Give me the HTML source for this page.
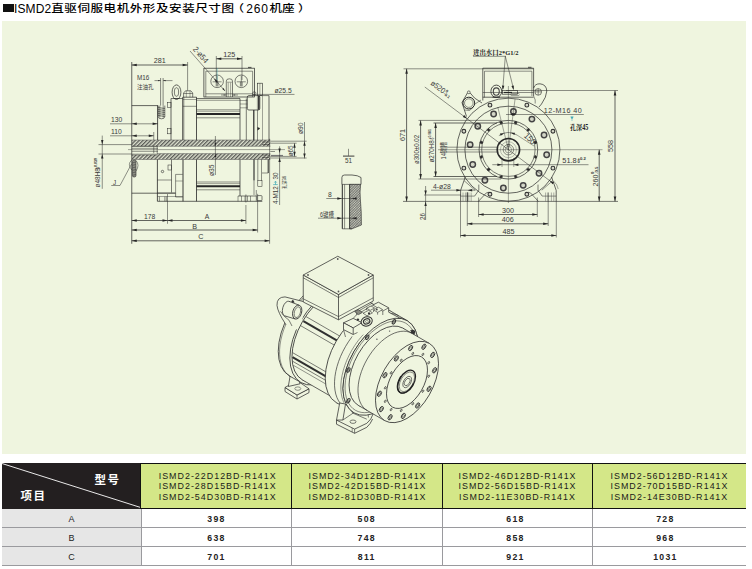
<!DOCTYPE html>
<html lang="zh"><head><meta charset="utf-8"><title>ISMD2</title>
<style>
html,body{margin:0;padding:0;background:#fff;}
body{width:752px;height:569px;position:relative;overflow:hidden;font-family:"Liberation Sans","Noto Sans CJK SC",sans-serif;color:#111;}
#title{position:absolute;left:0;top:0;width:320px;height:16px;line-height:16px;font-size:12px;white-space:nowrap;color:#000;font-weight:500;margin:0;}
#title span{position:absolute;top:1.0px;}
#title span.cj{font-size:12.6px;transform:scaleY(0.8);transform-origin:0 0;top:1.6px;}
#title .sq{left:3px;top:3.8px;width:10.5px;height:8.7px;background:#111;}
#panel{position:absolute;left:2px;top:21px;width:744px;height:433px;background:#eff5df;}
#draw{position:absolute;left:0;top:0;width:752px;height:569px;}
#tbl{position:absolute;left:2px;top:463px;width:744px;height:103px;}
.hd{position:absolute;top:0;height:45.5px;box-sizing:border-box;}
#h0{left:0;width:138.4px;background:#231f20;color:#fff;}
#h0 svg{position:absolute;left:0;top:0;}
#h0 .a{position:absolute;left:92.5px;top:7.6px;font-size:11.5px;font-weight:bold;letter-spacing:1.6px;}
#h0 .b{position:absolute;left:18.5px;top:23.5px;font-size:11.5px;font-weight:bold;letter-spacing:1.6px;}
.hg{background:#d4e788;border-top:1px solid #111;border-bottom:1px solid #111;border-left:1px solid #111;font-size:8.9px;line-height:10.4px;letter-spacing:1.02px;color:#1a1a1a;text-align:center;padding-top:7.0px;}
.row{position:absolute;left:0;width:744px;height:19px;border-bottom:1px solid #9a9a9e;box-sizing:border-box;}
.c{position:absolute;top:0;height:18px;line-height:18px;text-align:center;font-size:8.5px;box-sizing:border-box;}
.c0{left:0;width:139px;background:#e6e6e6;color:#222;font-size:9px;padding-top:1px;}
.cv{font-weight:bold;border-left:1px solid #9a9a9e;color:#222;letter-spacing:1.3px;font-size:8.7px;padding-top:1px;}
</style></head>
<body>
<h1 id="title"><span class="sq"></span><span style="left:14px;letter-spacing:0.1px">ISMD2</span><span class="cj" style="left:51.2px;letter-spacing:0.5px">直驱伺服电机外形及安装尺寸图</span><span class="cj" style="left:231.5px">（</span><span style="left:246.3px;letter-spacing:0.8px">260</span><span class="cj" style="left:269.4px;letter-spacing:0px">机座</span><span class="cj" style="left:298px">）</span></h1>
<div id="panel"></div>
<svg id="draw" width="752" height="569" viewBox="0 0 752 569" font-family="'Liberation Sans','Noto Sans CJK SC',sans-serif"><defs><pattern id="hat" width="2.7" height="2.7" patternUnits="userSpaceOnUse" patternTransform="rotate(-45)"><rect width="2.7" height="2.7" fill="#dde1cf"/><line x1="0" y1="0.7" x2="2.7" y2="0.7" stroke="#3a3a3a" stroke-width="1.05"/></pattern><pattern id="hat2" width="1.8" height="1.8" patternUnits="userSpaceOnUse" patternTransform="rotate(-45)"><rect width="1.8" height="1.8" fill="#d6d9c8"/><line x1="0" y1="0.5" x2="1.8" y2="0.5" stroke="#4a4a4a" stroke-width="0.6"/><line x1="0.5" y1="0" x2="0.5" y2="1.8" stroke="#666" stroke-width="0.4"/></pattern></defs>
<rect x="131.75" y="140" width="138.5" height="6.3" fill="url(#hat)" stroke="none"/>
<rect x="131.75" y="153.6" width="138.5" height="5.9" fill="url(#hat)" stroke="none"/>
<line x1="131.75" y1="140.00" x2="270.30" y2="140.00" stroke="#555" stroke-width="0.5"/>
<line x1="158.00" y1="146.30" x2="270.30" y2="146.30" stroke="#555" stroke-width="0.5"/>
<line x1="131.75" y1="153.60" x2="270.30" y2="153.60" stroke="#555" stroke-width="0.5"/>
<line x1="131.75" y1="159.50" x2="270.30" y2="159.50" stroke="#555" stroke-width="0.5"/>
<line x1="131.75" y1="146.30" x2="158.00" y2="146.30" stroke="#262626" stroke-width="0.7"/>
<line x1="128.00" y1="149.60" x2="285.00" y2="149.60" stroke="#262626" stroke-width="0.4"/>
<line x1="131.75" y1="148.30" x2="158.00" y2="148.30" stroke="#262626" stroke-width="0.5"/>
<line x1="131.75" y1="151.30" x2="158.00" y2="151.30" stroke="#262626" stroke-width="0.5"/>
<line x1="153.75" y1="146.30" x2="153.75" y2="154.60" stroke="#262626" stroke-width="0.5"/>
<line x1="157.20" y1="146.30" x2="157.20" y2="154.60" stroke="#262626" stroke-width="0.5"/>
<rect x="131.75" y="153.4" width="25.4" height="1.4" fill="#eff5df"/>
<line x1="131.75" y1="154.80" x2="157.20" y2="154.80" stroke="#262626" stroke-width="0.6"/>
<line x1="131.75" y1="62.00" x2="131.75" y2="243.80" stroke="#262626" stroke-width="0.7"/>
<line x1="131.75" y1="105.60" x2="158.00" y2="105.60" stroke="#262626" stroke-width="0.7"/>
<line x1="157.60" y1="105.60" x2="157.60" y2="140.00" stroke="#262626" stroke-width="0.8"/>
<line x1="160.60" y1="78.00" x2="160.60" y2="105.60" stroke="#262626" stroke-width="0.55"/>
<line x1="163.10" y1="78.00" x2="163.10" y2="105.60" stroke="#262626" stroke-width="0.55"/>
<path d="M158.2 105.6 V116.5 Q158.2 118.8 161.5 118.8 Q164.8 118.8 164.8 116.5 V105.6" fill="none" stroke="#262626" stroke-width="0.6"/>
<line x1="158.20" y1="107.50" x2="164.80" y2="108.50" stroke="#262626" stroke-width="0.6"/>
<line x1="158.20" y1="109.50" x2="164.80" y2="110.50" stroke="#262626" stroke-width="0.6"/>
<line x1="158.20" y1="111.50" x2="164.80" y2="112.50" stroke="#262626" stroke-width="0.6"/>
<line x1="158.20" y1="113.50" x2="164.80" y2="114.50" stroke="#262626" stroke-width="0.6"/>
<line x1="158.20" y1="115.50" x2="164.80" y2="116.50" stroke="#262626" stroke-width="0.6"/>
<line x1="159.80" y1="105.60" x2="159.80" y2="117.50" stroke="#262626" stroke-width="0.5"/>
<line x1="163.20" y1="105.60" x2="163.20" y2="117.50" stroke="#262626" stroke-width="0.5"/>
<line x1="154.50" y1="80.60" x2="160.60" y2="80.60" stroke="#262626" stroke-width="0.5"/>
<line x1="163.10" y1="80.60" x2="172.50" y2="80.60" stroke="#262626" stroke-width="0.5"/>
<path d="M160.60 80.60 L158.10 81.20 L158.10 80.00 Z" fill="#262626"/>
<path d="M163.10 80.60 L165.60 80.00 L165.60 81.20 Z" fill="#262626"/>
<text transform="translate(137.00 79.60) scale(0.9 1)" font-size="7" text-anchor="start" fill="#3a3a3a" font-weight="normal">M16</text>
<text transform="translate(137.00 88.60) scale(0.9 1)" font-size="6.2" text-anchor="start" fill="#3a3a3a" font-weight="normal">注油孔</text>
<line x1="187.60" y1="62.00" x2="187.60" y2="90.60" stroke="#262626" stroke-width="0.5"/>
<line x1="131.75" y1="65.00" x2="187.60" y2="65.00" stroke="#262626" stroke-width="0.7"/>
<path d="M131.75 65.00 L136.75 63.70 L136.75 66.30 Z" fill="#262626"/>
<path d="M187.60 65.00 L182.60 66.30 L182.60 63.70 Z" fill="#262626"/>
<text transform="translate(159.68 63.40) scale(0.9 1)" font-size="8" text-anchor="middle" fill="#3a3a3a" font-weight="normal">281</text>
<line x1="110.00" y1="123.80" x2="158.00" y2="123.80" stroke="#262626" stroke-width="0.5"/>
<path d="M131.75 123.80 L136.75 122.50 L136.75 125.10 Z" fill="#262626"/>
<path d="M157.60 123.80 L152.60 125.10 L152.60 122.50 Z" fill="#262626"/>
<text transform="translate(111.00 122.40) scale(0.9 1)" font-size="7.5" text-anchor="start" fill="#3a3a3a" font-weight="normal">130</text>
<line x1="110.00" y1="135.80" x2="153.75" y2="135.80" stroke="#262626" stroke-width="0.5"/>
<path d="M131.75 135.80 L136.75 134.50 L136.75 137.10 Z" fill="#262626"/>
<path d="M153.75 135.80 L148.75 137.10 L148.75 134.50 Z" fill="#262626"/>
<text transform="translate(111.00 134.40) scale(0.9 1)" font-size="7.5" text-anchor="start" fill="#3a3a3a" font-weight="normal">110</text>
<line x1="153.75" y1="132.00" x2="153.75" y2="140.00" stroke="#262626" stroke-width="0.5"/>
<line x1="98.50" y1="144.60" x2="131.75" y2="144.60" stroke="#262626" stroke-width="0.5"/>
<line x1="98.50" y1="154.00" x2="131.75" y2="154.00" stroke="#262626" stroke-width="0.5"/>
<line x1="102.25" y1="135.60" x2="102.25" y2="188.80" stroke="#262626" stroke-width="0.5"/>
<path d="M102.25 144.60 L101.05 140.00 L103.45 140.00 Z" fill="#262626"/>
<path d="M102.25 154.00 L103.45 158.60 L101.05 158.60 Z" fill="#262626"/>
<text transform="translate(100.00 187.50) rotate(-90) scale(0.9 1)" font-size="7.2" text-anchor="start" fill="#3a3a3a" font-weight="normal">ø48H8</text>
<text transform="translate(100.00 169.20) rotate(-90)" font-size="3.6" fill="#333" font-weight="bold"><tspan x="0" y="-3.3">+0.039</tspan><tspan x="0" y="0.2">0</tspan></text>
<line x1="111.25" y1="185.50" x2="120.00" y2="185.50" stroke="#262626" stroke-width="0.5"/>
<line x1="120.00" y1="185.50" x2="131.50" y2="164.00" stroke="#262626" stroke-width="0.5"/>
<text transform="translate(113.00 184.80) scale(0.9 1)" font-size="7" text-anchor="start" fill="#3a3a3a" font-weight="normal">J</text>
<path d="M131.75 160 Q127 164 131.75 170" fill="none" stroke="#262626" stroke-width="0.5"/>
<path d="M136 160.5 Q140 165 136 171" fill="none" stroke="#262626" stroke-width="0.5"/>
<rect x="132.4" y="160" width="3.6" height="17" rx="1.6" fill="#8d8f84" stroke="#2a2a2a" stroke-width="0.6"/>
<line x1="132.60" y1="162.80" x2="135.80" y2="162.00" stroke="#333" stroke-width="0.5"/>
<line x1="132.60" y1="165.30" x2="135.80" y2="164.50" stroke="#333" stroke-width="0.5"/>
<line x1="132.60" y1="167.80" x2="135.80" y2="167.00" stroke="#333" stroke-width="0.5"/>
<line x1="132.60" y1="170.30" x2="135.80" y2="169.50" stroke="#333" stroke-width="0.5"/>
<line x1="132.60" y1="172.80" x2="135.80" y2="172.00" stroke="#333" stroke-width="0.5"/>
<line x1="132.60" y1="175.30" x2="135.80" y2="174.50" stroke="#333" stroke-width="0.5"/>
<line x1="131.75" y1="193.20" x2="157.40" y2="193.20" stroke="#262626" stroke-width="0.7"/>
<line x1="157.40" y1="159.50" x2="157.40" y2="201.30" stroke="#262626" stroke-width="0.8"/>
<line x1="171.50" y1="159.50" x2="171.50" y2="192.50" stroke="#262626" stroke-width="0.6"/>
<circle cx="162.50" cy="171.50" r="1.20" fill="none" stroke="#262626" stroke-width="0.6"/>
<rect x="168.00" y="165.00" width="3.50" height="5.00" rx="0" fill="none" stroke="#262626" stroke-width="0.5"/>
<line x1="157.40" y1="180.00" x2="171.50" y2="180.00" stroke="#262626" stroke-width="0.5"/>
<line x1="175.60" y1="174.40" x2="175.60" y2="193.00" stroke="#262626" stroke-width="0.5"/>
<line x1="175.60" y1="174.40" x2="182.70" y2="174.40" stroke="#262626" stroke-width="0.5"/>
<line x1="175.60" y1="181.00" x2="182.70" y2="181.00" stroke="#262626" stroke-width="0.4"/>
<line x1="157.40" y1="193.10" x2="175.60" y2="193.10" stroke="#262626" stroke-width="1.0"/>
<line x1="175.60" y1="193.10" x2="175.60" y2="197.00" stroke="#262626" stroke-width="0.6"/>
<line x1="175.60" y1="197.00" x2="182.80" y2="197.00" stroke="#262626" stroke-width="0.5"/>
<line x1="157.40" y1="201.30" x2="262.30" y2="201.30" stroke="#262626" stroke-width="0.7"/>
<line x1="159.40" y1="196.50" x2="159.40" y2="201.30" stroke="#262626" stroke-width="0.5"/>
<line x1="164.80" y1="196.50" x2="164.80" y2="201.30" stroke="#262626" stroke-width="0.5"/>
<line x1="166.30" y1="196.50" x2="166.30" y2="201.30" stroke="#262626" stroke-width="0.5"/>
<line x1="157.40" y1="196.50" x2="182.80" y2="196.50" stroke="#262626" stroke-width="0.4"/>
<rect x="167.30" y="102.30" width="3.70" height="5.20" rx="0" fill="none" stroke="#262626" stroke-width="0.5"/>
<rect x="167.30" y="128.50" width="3.70" height="5.30" rx="0" fill="none" stroke="#262626" stroke-width="0.5"/>
<line x1="171.00" y1="98.50" x2="171.00" y2="140.00" stroke="#262626" stroke-width="0.7"/>
<line x1="171.00" y1="98.50" x2="182.80" y2="98.50" stroke="#262626" stroke-width="0.6"/>
<line x1="182.80" y1="97.20" x2="182.80" y2="140.00" stroke="#262626" stroke-width="0.9"/>
<line x1="183.90" y1="97.20" x2="183.90" y2="140.00" stroke="#262626" stroke-width="0.4"/>
<line x1="182.80" y1="97.20" x2="196.50" y2="97.20" stroke="#262626" stroke-width="0.7"/>
<line x1="196.50" y1="97.20" x2="196.50" y2="140.00" stroke="#262626" stroke-width="0.8"/>
<line x1="182.80" y1="106.30" x2="196.50" y2="106.30" stroke="#262626" stroke-width="0.5"/>
<line x1="182.80" y1="99.50" x2="196.50" y2="99.50" stroke="#262626" stroke-width="0.4"/>
<line x1="183.00" y1="159.50" x2="183.00" y2="201.30" stroke="#262626" stroke-width="0.9"/>
<line x1="196.50" y1="159.50" x2="196.50" y2="201.30" stroke="#262626" stroke-width="0.8"/>
<ellipse cx="0" cy="0" rx="4.40" ry="7.30" transform="translate(176.50 92.20) rotate(0)" fill="none" stroke="#262626" stroke-width="0.7"/>
<ellipse cx="0" cy="0" rx="2.10" ry="4.30" transform="translate(176.50 92.00) rotate(0)" fill="none" stroke="#262626" stroke-width="0.6"/>
<line x1="173.50" y1="98.50" x2="179.50" y2="98.50" stroke="#262626" stroke-width="0.6"/>
<path d="M183.60 97.20 L183.60 93.00 L185.50 90.80 L190.80 90.80 L192.70 93.00 L192.70 97.20" fill="none" stroke="#262626" stroke-width="0.6" stroke-linejoin="round"/>
<line x1="183.60" y1="93.50" x2="192.70" y2="93.50" stroke="#262626" stroke-width="0.5"/>
<line x1="186.30" y1="90.80" x2="186.30" y2="97.20" stroke="#262626" stroke-width="0.4"/>
<line x1="190.00" y1="90.80" x2="190.00" y2="97.20" stroke="#262626" stroke-width="0.4"/>
<line x1="196.50" y1="98.60" x2="240.00" y2="98.60" stroke="#262626" stroke-width="0.7"/>
<line x1="240.00" y1="98.60" x2="240.00" y2="140.00" stroke="#262626" stroke-width="0.7"/>
<line x1="196.50" y1="100.40" x2="240.00" y2="100.40" stroke="#262626" stroke-width="0.4"/>
<line x1="196.50" y1="109.80" x2="240.00" y2="109.80" stroke="#262626" stroke-width="0.5"/>
<line x1="196.50" y1="114.10" x2="240.00" y2="114.10" stroke="#262626" stroke-width="2.0"/>
<line x1="196.50" y1="117.80" x2="240.00" y2="117.80" stroke="#262626" stroke-width="0.5"/>
<line x1="196.50" y1="111.30" x2="240.00" y2="111.30" stroke="#262626" stroke-width="0.4"/>
<line x1="196.50" y1="182.00" x2="240.00" y2="182.00" stroke="#262626" stroke-width="0.5"/>
<line x1="196.50" y1="186.30" x2="240.00" y2="186.30" stroke="#262626" stroke-width="2.0"/>
<line x1="196.50" y1="189.80" x2="240.00" y2="189.80" stroke="#262626" stroke-width="0.5"/>
<line x1="196.50" y1="183.60" x2="240.00" y2="183.60" stroke="#262626" stroke-width="0.4"/>
<line x1="240.00" y1="159.50" x2="240.00" y2="196.00" stroke="#262626" stroke-width="0.7"/>
<rect x="203.90" y="68.20" width="50.50" height="28.80" rx="0" fill="none" stroke="#262626" stroke-width="0.7"/>
<path d="M205.80 97.00 L205.80 71.20 L252.60 71.20 L252.60 97.00" fill="none" stroke="#262626" stroke-width="0.5" stroke-linejoin="round"/>
<line x1="205.80" y1="93.80" x2="252.60" y2="93.80" stroke="#262626" stroke-width="0.5"/>
<line x1="248.00" y1="67.40" x2="251.50" y2="67.40" stroke="#262626" stroke-width="0.8"/>
<circle cx="217.10" cy="81.30" r="6.30" fill="none" stroke="#262626" stroke-width="0.6"/>
<circle cx="241.30" cy="81.30" r="6.30" fill="none" stroke="#262626" stroke-width="0.6"/>
<line x1="212.60" y1="81.80" x2="221.60" y2="81.80" stroke="#262626" stroke-width="0.5"/>
<line x1="217.10" y1="76.00" x2="217.10" y2="86.50" stroke="#262626" stroke-width="0.5"/>
<line x1="216.20" y1="81.80" x2="216.20" y2="86.30" stroke="#262626" stroke-width="0.5"/>
<line x1="218.00" y1="81.80" x2="218.00" y2="86.30" stroke="#262626" stroke-width="0.5"/>
<line x1="236.80" y1="81.80" x2="245.80" y2="81.80" stroke="#262626" stroke-width="0.5"/>
<line x1="241.30" y1="76.00" x2="241.30" y2="86.50" stroke="#262626" stroke-width="0.5"/>
<line x1="240.40" y1="81.80" x2="240.40" y2="86.30" stroke="#262626" stroke-width="0.5"/>
<line x1="242.20" y1="81.80" x2="242.20" y2="86.30" stroke="#262626" stroke-width="0.5"/>
<line x1="217.10" y1="68.00" x2="217.10" y2="80.00" stroke="#3aa7b5" stroke-width="0.5"/>
<path d="M226.3 97 V81 Q226.3 78.8 229.4 78.8 Q232.5 78.8 232.5 81 V97" fill="none" stroke="#262626" stroke-width="0.6"/>
<line x1="228.20" y1="82.50" x2="228.20" y2="97.00" stroke="#262626" stroke-width="0.4"/>
<line x1="230.60" y1="82.50" x2="230.60" y2="97.00" stroke="#262626" stroke-width="0.4"/>
<line x1="227.00" y1="82.20" x2="232.00" y2="82.20" stroke="#262626" stroke-width="0.4"/>
<line x1="221.00" y1="95.00" x2="226.30" y2="95.00" stroke="#262626" stroke-width="0.5"/>
<path d="M226.30 95.00 L223.70 95.60 L223.70 94.40 Z" fill="#262626"/>
<line x1="232.50" y1="95.00" x2="238.00" y2="95.00" stroke="#262626" stroke-width="0.5"/>
<path d="M232.50 95.00 L235.10 94.40 L235.10 95.60 Z" fill="#262626"/>
<line x1="216.30" y1="56.00" x2="216.30" y2="80.00" stroke="#262626" stroke-width="0.5"/>
<line x1="242.00" y1="56.00" x2="242.00" y2="80.00" stroke="#262626" stroke-width="0.5"/>
<line x1="216.30" y1="58.80" x2="242.00" y2="58.80" stroke="#262626" stroke-width="0.7"/>
<path d="M216.30 58.80 L221.30 57.50 L221.30 60.10 Z" fill="#262626"/>
<path d="M242.00 58.80 L237.00 60.10 L237.00 57.50 Z" fill="#262626"/>
<text transform="translate(229.15 57.20) scale(0.9 1)" font-size="8" text-anchor="middle" fill="#3a3a3a" font-weight="normal">125</text>
<line x1="190.00" y1="51.00" x2="225.00" y2="91.00" stroke="#262626" stroke-width="0.5"/>
<path d="M214.00 78.40 L217.93 81.07 L216.13 82.65 Z" fill="#262626"/>
<path d="M225.00 91.00 L222.29 89.12 L223.49 88.07 Z" fill="#262626"/>
<text transform="translate(192.50 49.50) rotate(48.8) scale(0.9 1)" font-size="8" text-anchor="start" fill="#3a3a3a" font-weight="normal">2-ø54</text>
<line x1="246.30" y1="98.60" x2="246.30" y2="140.00" stroke="#262626" stroke-width="0.6"/>
<line x1="240.00" y1="100.50" x2="247.30" y2="100.50" stroke="#262626" stroke-width="0.4"/>
<rect x="247.30" y="95.60" width="12.50" height="14.40" rx="1.6" fill="none" stroke="#262626" stroke-width="0.7"/>
<line x1="258.80" y1="95.90" x2="258.80" y2="109.70" stroke="#262626" stroke-width="1.4"/>
<line x1="257.40" y1="95.60" x2="257.40" y2="110.00" stroke="#262626" stroke-width="0.4"/>
<line x1="240.00" y1="104.00" x2="247.30" y2="104.00" stroke="#262626" stroke-width="0.4"/>
<line x1="240.00" y1="107.80" x2="247.30" y2="107.80" stroke="#262626" stroke-width="0.4"/>
<rect x="257.30" y="83.20" width="5.20" height="12.40" rx="0" fill="none" stroke="#262626" stroke-width="0.6"/>
<line x1="259.90" y1="83.20" x2="259.90" y2="95.60" stroke="#262626" stroke-width="0.4"/>
<circle cx="254.30" cy="93.30" r="1.60" fill="none" stroke="#262626" stroke-width="0.5"/>
<line x1="259.80" y1="95.60" x2="269.00" y2="95.60" stroke="#262626" stroke-width="0.6"/>
<line x1="269.00" y1="95.60" x2="269.00" y2="140.00" stroke="#262626" stroke-width="0.7"/>
<line x1="262.50" y1="95.60" x2="262.50" y2="140.00" stroke="#262626" stroke-width="0.4"/>
<line x1="253.80" y1="110.00" x2="253.80" y2="140.00" stroke="#262626" stroke-width="1.2"/>
<line x1="257.50" y1="110.00" x2="257.50" y2="140.00" stroke="#262626" stroke-width="0.5"/>
<path d="M257.6 127.2 l2.4 1.2 l-2.4 1.8 z" fill="#262626" stroke="#262626" stroke-width="0.3"/>
<line x1="252.00" y1="94.40" x2="294.50" y2="94.40" stroke="#262626" stroke-width="0.5"/>
<text transform="translate(274.50 93.40) scale(0.9 1)" font-size="7.5" text-anchor="start" fill="#3a3a3a" font-weight="normal">ø25.5</text>
<line x1="254.00" y1="159.50" x2="254.00" y2="180.60" stroke="#262626" stroke-width="1.1"/>
<line x1="254.00" y1="180.60" x2="254.00" y2="195.00" stroke="#262626" stroke-width="0.5"/>
<line x1="257.80" y1="159.50" x2="257.80" y2="180.60" stroke="#262626" stroke-width="0.5"/>
<line x1="261.50" y1="159.50" x2="261.50" y2="180.60" stroke="#262626" stroke-width="0.5"/>
<rect x="257.80" y="180.60" width="4.20" height="5.70" rx="0" fill="none" stroke="#262626" stroke-width="0.5"/>
<line x1="268.20" y1="159.50" x2="268.20" y2="173.00" stroke="#262626" stroke-width="1.0"/>
<line x1="262.00" y1="173.00" x2="268.20" y2="173.00" stroke="#262626" stroke-width="0.5"/>
<line x1="240.00" y1="196.00" x2="256.30" y2="196.00" stroke="#262626" stroke-width="0.6"/>
<line x1="238.00" y1="196.00" x2="238.00" y2="201.30" stroke="#262626" stroke-width="0.45"/>
<line x1="241.50" y1="196.00" x2="241.50" y2="201.30" stroke="#262626" stroke-width="0.45"/>
<line x1="245.00" y1="196.00" x2="245.00" y2="201.30" stroke="#262626" stroke-width="0.45"/>
<line x1="247.50" y1="196.00" x2="247.50" y2="201.30" stroke="#262626" stroke-width="0.45"/>
<line x1="250.50" y1="196.00" x2="250.50" y2="201.30" stroke="#262626" stroke-width="0.45"/>
<line x1="238.00" y1="196.00" x2="240.00" y2="196.00" stroke="#262626" stroke-width="0.6"/>
<rect x="257.00" y="195.60" width="5.00" height="5.00" rx="0.8" fill="none" stroke="#262626" stroke-width="0.6"/>
<line x1="256.30" y1="190.00" x2="256.30" y2="201.30" stroke="#262626" stroke-width="0.5"/>
<line x1="262.00" y1="142.00" x2="269.00" y2="142.00" stroke="#262626" stroke-width="0.5"/>
<line x1="262.00" y1="144.50" x2="269.00" y2="144.50" stroke="#262626" stroke-width="0.5"/>
<line x1="262.00" y1="155.00" x2="269.00" y2="155.00" stroke="#262626" stroke-width="0.5"/>
<line x1="262.00" y1="157.50" x2="269.00" y2="157.50" stroke="#262626" stroke-width="0.5"/>
<line x1="269.60" y1="138.80" x2="269.60" y2="243.80" stroke="#262626" stroke-width="0.5"/>
<line x1="167.50" y1="194.00" x2="167.50" y2="223.80" stroke="#262626" stroke-width="0.5"/>
<line x1="245.90" y1="194.40" x2="245.90" y2="202.50" stroke="#262626" stroke-width="0.5"/>
<line x1="245.90" y1="205.00" x2="245.90" y2="223.80" stroke="#262626" stroke-width="0.5"/>
<line x1="257.60" y1="193.80" x2="257.60" y2="232.50" stroke="#262626" stroke-width="0.5"/>
<line x1="131.75" y1="220.50" x2="167.50" y2="220.50" stroke="#262626" stroke-width="0.7"/>
<path d="M131.75 220.50 L136.75 219.20 L136.75 221.80 Z" fill="#262626"/>
<path d="M167.50 220.50 L162.50 221.80 L162.50 219.20 Z" fill="#262626"/>
<text transform="translate(149.60 218.80) scale(0.9 1)" font-size="7.5" text-anchor="middle" fill="#3a3a3a" font-weight="normal">178</text>
<line x1="167.50" y1="220.50" x2="245.90" y2="220.50" stroke="#262626" stroke-width="0.7"/>
<path d="M167.50 220.50 L172.50 219.20 L172.50 221.80 Z" fill="#262626"/>
<path d="M245.90 220.50 L240.90 221.80 L240.90 219.20 Z" fill="#262626"/>
<text transform="translate(207.00 218.80) scale(0.9 1)" font-size="7.5" text-anchor="middle" fill="#3a3a3a" font-weight="normal">A</text>
<line x1="131.75" y1="230.00" x2="257.60" y2="230.00" stroke="#262626" stroke-width="0.7"/>
<path d="M131.75 230.00 L136.75 228.70 L136.75 231.30 Z" fill="#262626"/>
<path d="M257.60 230.00 L252.60 231.30 L252.60 228.70 Z" fill="#262626"/>
<text transform="translate(194.60 228.60) scale(0.9 1)" font-size="8.0" text-anchor="middle" fill="#3a3a3a" font-weight="normal">B</text>
<line x1="131.75" y1="240.80" x2="269.60" y2="240.80" stroke="#262626" stroke-width="0.7"/>
<path d="M131.75 240.80 L136.75 239.50 L136.75 242.10 Z" fill="#262626"/>
<path d="M269.60 240.80 L264.60 242.10 L264.60 239.50 Z" fill="#262626"/>
<text transform="translate(200.80 239.40) scale(0.9 1)" font-size="8.0" text-anchor="middle" fill="#3a3a3a" font-weight="normal">C</text>
<line x1="215.40" y1="136.00" x2="215.40" y2="175.00" stroke="#262626" stroke-width="0.5"/>
<path d="M215.40 146.30 L214.50 142.70 L216.30 142.70 Z" fill="#262626"/>
<path d="M215.40 153.40 L216.30 157.00 L214.50 157.00 Z" fill="#262626"/>
<text transform="translate(213.80 176.00) rotate(-90) scale(0.9 1)" font-size="7.5" text-anchor="start" fill="#3a3a3a" font-weight="normal">ø35</text>
<line x1="270.30" y1="141.20" x2="306.60" y2="141.20" stroke="#262626" stroke-width="0.5"/>
<line x1="270.30" y1="158.00" x2="306.60" y2="158.00" stroke="#262626" stroke-width="0.5"/>
<line x1="304.50" y1="122.00" x2="304.50" y2="158.50" stroke="#262626" stroke-width="0.5"/>
<path d="M304.50 141.20 L305.70 145.80 L303.30 145.80 Z" fill="#262626"/>
<path d="M304.50 158.00 L303.30 153.40 L305.70 153.40 Z" fill="#262626"/>
<text transform="translate(302.60 134.00) rotate(-90) scale(0.9 1)" font-size="7.5" text-anchor="start" fill="#3a3a3a" font-weight="normal">ø90</text>
<line x1="270.30" y1="143.20" x2="296.60" y2="143.20" stroke="#262626" stroke-width="0.5"/>
<line x1="270.30" y1="156.40" x2="296.60" y2="156.40" stroke="#262626" stroke-width="0.5"/>
<line x1="294.50" y1="143.20" x2="294.50" y2="156.40" stroke="#262626" stroke-width="0.5"/>
<path d="M294.50 143.20 L295.70 147.80 L293.30 147.80 Z" fill="#262626"/>
<path d="M294.50 156.40 L293.30 151.80 L295.70 151.80 Z" fill="#262626"/>
<text transform="translate(293.00 156.30) rotate(-90) scale(0.9 1)" font-size="7" text-anchor="start" fill="#3a3a3a" font-weight="normal">ø65</text>
<line x1="270.30" y1="151.50" x2="275.00" y2="151.50" stroke="#262626" stroke-width="0.5"/>
<line x1="271.00" y1="155.50" x2="283.00" y2="155.50" stroke="#777" stroke-width="1.2"/>
<line x1="279.60" y1="146.30" x2="279.60" y2="205.00" stroke="#262626" stroke-width="0.5"/>
<path d="M279.60 153.00 L278.40 148.40 L280.80 148.40 Z" fill="#262626"/>
<path d="M279.60 157.50 L280.80 162.10 L278.40 162.10 Z" fill="#262626"/>
<text transform="translate(277.90 204.00) rotate(-90) scale(0.9 1)" font-size="7" text-anchor="start" fill="#3a3a3a" font-weight="normal">4-M12</text>
<path d="M273.2 184.6 H277.8 M275.5 184.6 V181.4 M274.3 182.6 L275.5 181.2 L276.7 182.6" fill="none" stroke="#3aa7b5" stroke-width="0.7"/>
<text transform="translate(277.90 179.60) rotate(-90) scale(0.9 1)" font-size="7" text-anchor="start" fill="#3a3a3a" font-weight="normal">30</text>
<text transform="translate(286.00 189.00) rotate(-90) scale(0.85 1)" font-size="5" text-anchor="start" fill="#3a3a3a" font-weight="normal">孔深36</text>
<line x1="348.50" y1="148.80" x2="348.50" y2="155.80" stroke="#262626" stroke-width="0.5"/>
<line x1="343.00" y1="156.10" x2="354.40" y2="156.10" stroke="#262626" stroke-width="0.9"/>
<text transform="translate(348.60 162.90) scale(0.9 1)" font-size="7" text-anchor="middle" fill="#3a3a3a" font-weight="normal">51</text>
<path d="M341.9 184.4 V177.5 Q341.9 175 344.5 175 H352 Q358 175.3 361 177.5 V184.4" fill="none" stroke="#262626" stroke-width="0.7"/>
<line x1="341.90" y1="184.40" x2="361.00" y2="184.40" stroke="#262626" stroke-width="0.6"/>
<line x1="342.30" y1="184.40" x2="342.30" y2="228.80" stroke="#262626" stroke-width="1.0"/>
<line x1="344.60" y1="184.40" x2="344.60" y2="228.80" stroke="#262626" stroke-width="0.5"/>
<path d="M349.6 184.4 H360.6 Q359.6 192 360.4 200 Q361.6 212 361.4 225 L352 228.8 H349.6 Z" fill="url(#hat2)" stroke="#262626" stroke-width="0.6"/>
<line x1="342.30" y1="228.80" x2="352.00" y2="228.80" stroke="#262626" stroke-width="0.6"/>
<line x1="349.60" y1="184.40" x2="349.60" y2="228.80" stroke="#262626" stroke-width="0.6"/>
<line x1="326.30" y1="198.50" x2="355.00" y2="198.50" stroke="#262626" stroke-width="0.5"/>
<path d="M341.90 198.50 L337.30 199.70 L337.30 197.30 Z" fill="#262626"/>
<path d="M352.00 198.50 L356.60 197.30 L356.60 199.70 Z" fill="#262626"/>
<text transform="translate(329.80 197.00) scale(0.9 1)" font-size="7.5" text-anchor="middle" fill="#3a3a3a" font-weight="normal">8</text>
<line x1="318.00" y1="218.20" x2="355.00" y2="218.20" stroke="#262626" stroke-width="0.5"/>
<path d="M341.90 218.20 L337.30 219.40 L337.30 217.00 Z" fill="#262626"/>
<path d="M352.00 218.20 L356.60 217.00 L356.60 219.40 Z" fill="#262626"/>
<text transform="translate(320.00 217.00) scale(0.8 1)" font-size="6.8" text-anchor="start" fill="#3a3a3a" font-weight="normal">6键槽</text>
<circle cx="508.40" cy="149.70" r="51.50" fill="none" stroke="#262626" stroke-width="0.7"/>
<circle cx="508.40" cy="149.70" r="43.50" fill="none" stroke="#262626" stroke-width="0.7"/>
<circle cx="508.40" cy="149.70" r="29.30" fill="none" stroke="#262626" stroke-width="0.7"/>
<circle cx="508.40" cy="149.70" r="26.70" fill="none" stroke="#262626" stroke-width="0.6"/>
<circle cx="508.40" cy="149.70" r="11.20" fill="none" stroke="#2a2a2a" stroke-width="1.6"/>
<circle cx="508.40" cy="149.70" r="8.00" fill="none" stroke="#666" stroke-width="0.4"/>
<circle cx="508.40" cy="149.70" r="5.20" fill="none" stroke="#262626" stroke-width="0.5"/>
<circle cx="508.40" cy="149.70" r="3.20" fill="none" stroke="#555" stroke-width="0.5"/>
<path d="M507.2 146.5 V144.29999999999998 H509.59999999999997 V146.5" fill="none" stroke="#262626" stroke-width="0.4"/>
<line x1="508.40" y1="86.00" x2="508.40" y2="203.00" stroke="#262626" stroke-width="0.4"/>
<line x1="438.00" y1="149.70" x2="602.50" y2="149.70" stroke="#262626" stroke-width="0.4"/>
<circle cx="513.44" cy="111.43" r="2.70" fill="#dcdfce" stroke="#444" stroke-width="1.5"/>
<circle cx="513.44" cy="111.43" r="0.90" fill="#eff5df" stroke="#999" stroke-width="0.3"/>
<circle cx="531.90" cy="119.08" r="2.70" fill="#dcdfce" stroke="#444" stroke-width="1.5"/>
<circle cx="531.90" cy="119.08" r="0.90" fill="#eff5df" stroke="#999" stroke-width="0.3"/>
<circle cx="544.06" cy="134.93" r="2.70" fill="#dcdfce" stroke="#444" stroke-width="1.5"/>
<circle cx="544.06" cy="134.93" r="0.90" fill="#eff5df" stroke="#999" stroke-width="0.3"/>
<circle cx="546.67" cy="154.74" r="2.70" fill="#dcdfce" stroke="#444" stroke-width="1.5"/>
<circle cx="546.67" cy="154.74" r="0.90" fill="#eff5df" stroke="#999" stroke-width="0.3"/>
<circle cx="539.02" cy="173.20" r="2.70" fill="#dcdfce" stroke="#444" stroke-width="1.5"/>
<circle cx="539.02" cy="173.20" r="0.90" fill="#eff5df" stroke="#999" stroke-width="0.3"/>
<circle cx="523.17" cy="185.36" r="2.70" fill="#dcdfce" stroke="#444" stroke-width="1.5"/>
<circle cx="523.17" cy="185.36" r="0.90" fill="#eff5df" stroke="#999" stroke-width="0.3"/>
<circle cx="503.36" cy="187.97" r="2.70" fill="#dcdfce" stroke="#444" stroke-width="1.5"/>
<circle cx="503.36" cy="187.97" r="0.90" fill="#eff5df" stroke="#999" stroke-width="0.3"/>
<circle cx="484.90" cy="180.32" r="2.70" fill="#dcdfce" stroke="#444" stroke-width="1.5"/>
<circle cx="484.90" cy="180.32" r="0.90" fill="#eff5df" stroke="#999" stroke-width="0.3"/>
<circle cx="472.74" cy="164.47" r="2.70" fill="#dcdfce" stroke="#444" stroke-width="1.5"/>
<circle cx="472.74" cy="164.47" r="0.90" fill="#eff5df" stroke="#999" stroke-width="0.3"/>
<circle cx="470.13" cy="144.66" r="2.70" fill="#dcdfce" stroke="#444" stroke-width="1.5"/>
<circle cx="470.13" cy="144.66" r="0.90" fill="#eff5df" stroke="#999" stroke-width="0.3"/>
<circle cx="477.78" cy="126.20" r="2.70" fill="#dcdfce" stroke="#444" stroke-width="1.5"/>
<circle cx="477.78" cy="126.20" r="0.90" fill="#eff5df" stroke="#999" stroke-width="0.3"/>
<circle cx="493.63" cy="114.04" r="2.70" fill="#dcdfce" stroke="#444" stroke-width="1.5"/>
<circle cx="493.63" cy="114.04" r="0.90" fill="#eff5df" stroke="#999" stroke-width="0.3"/>
<circle cx="526.85" cy="105.17" r="1.90" fill="#d5d8c8" stroke="#333" stroke-width="1.1"/>
<circle cx="552.93" cy="131.25" r="1.90" fill="#d5d8c8" stroke="#333" stroke-width="1.1"/>
<circle cx="552.93" cy="168.15" r="1.90" fill="#d5d8c8" stroke="#333" stroke-width="1.1"/>
<circle cx="526.85" cy="194.23" r="1.90" fill="#d5d8c8" stroke="#333" stroke-width="1.1"/>
<circle cx="489.95" cy="194.23" r="1.90" fill="#d5d8c8" stroke="#333" stroke-width="1.1"/>
<circle cx="463.87" cy="168.15" r="1.90" fill="#d5d8c8" stroke="#333" stroke-width="1.1"/>
<circle cx="463.87" cy="131.25" r="1.90" fill="#d5d8c8" stroke="#333" stroke-width="1.1"/>
<circle cx="489.95" cy="105.17" r="1.90" fill="#d5d8c8" stroke="#333" stroke-width="1.1"/>
<path d="M513.95 122.65 L517.35 122.65 M515.65 120.95 L515.65 124.35 M514.55 121.55 L516.75 123.75 M516.75 121.55 L514.45 123.85" fill="none" stroke="#2a2a2a" stroke-width="1.0"/>
<path d="M526.50 129.90 L529.90 129.90 M528.20 128.20 L528.20 131.60 M527.10 128.80 L529.30 131.00 M529.30 128.80 L527.00 131.10" fill="none" stroke="#2a2a2a" stroke-width="1.0"/>
<path d="M533.75 142.45 L537.15 142.45 M535.45 140.75 L535.45 144.15 M534.35 141.35 L536.55 143.55 M536.55 141.35 L534.25 143.65" fill="none" stroke="#2a2a2a" stroke-width="1.0"/>
<path d="M533.75 156.95 L537.15 156.95 M535.45 155.25 L535.45 158.65 M534.35 155.85 L536.55 158.05 M536.55 155.85 L534.25 158.15" fill="none" stroke="#2a2a2a" stroke-width="1.0"/>
<path d="M526.50 169.50 L529.90 169.50 M528.20 167.80 L528.20 171.20 M527.10 168.40 L529.30 170.60 M529.30 168.40 L527.00 170.70" fill="none" stroke="#2a2a2a" stroke-width="1.0"/>
<path d="M513.95 176.75 L517.35 176.75 M515.65 175.05 L515.65 178.45 M514.55 175.65 L516.75 177.85 M516.75 175.65 L514.45 177.95" fill="none" stroke="#2a2a2a" stroke-width="1.0"/>
<path d="M499.45 176.75 L502.85 176.75 M501.15 175.05 L501.15 178.45 M500.05 175.65 L502.25 177.85 M502.25 175.65 L499.95 177.95" fill="none" stroke="#2a2a2a" stroke-width="1.0"/>
<path d="M486.90 169.50 L490.30 169.50 M488.60 167.80 L488.60 171.20 M487.50 168.40 L489.70 170.60 M489.70 168.40 L487.40 170.70" fill="none" stroke="#2a2a2a" stroke-width="1.0"/>
<path d="M479.65 156.95 L483.05 156.95 M481.35 155.25 L481.35 158.65 M480.25 155.85 L482.45 158.05 M482.45 155.85 L480.15 158.15" fill="none" stroke="#2a2a2a" stroke-width="1.0"/>
<path d="M479.65 142.45 L483.05 142.45 M481.35 140.75 L481.35 144.15 M480.25 141.35 L482.45 143.55 M482.45 141.35 L480.15 143.65" fill="none" stroke="#2a2a2a" stroke-width="1.0"/>
<path d="M486.90 129.90 L490.30 129.90 M488.60 128.20 L488.60 131.60 M487.50 128.80 L489.70 131.00 M489.70 128.80 L487.40 131.10" fill="none" stroke="#2a2a2a" stroke-width="1.0"/>
<path d="M499.45 122.65 L502.85 122.65 M501.15 120.95 L501.15 124.35 M500.05 121.55 L502.25 123.75 M502.25 121.55 L499.95 123.85" fill="none" stroke="#2a2a2a" stroke-width="1.0"/>
<line x1="482.80" y1="68.20" x2="533.60" y2="68.20" stroke="#262626" stroke-width="0.7"/>
<line x1="482.80" y1="68.20" x2="482.80" y2="100.50" stroke="#262626" stroke-width="0.7"/>
<line x1="484.50" y1="71.20" x2="484.50" y2="97.50" stroke="#262626" stroke-width="0.5"/>
<line x1="533.60" y1="68.20" x2="533.60" y2="96.00" stroke="#262626" stroke-width="0.7"/>
<line x1="531.90" y1="71.20" x2="531.90" y2="96.00" stroke="#262626" stroke-width="0.5"/>
<line x1="484.50" y1="71.20" x2="531.90" y2="71.20" stroke="#262626" stroke-width="0.5"/>
<line x1="528.00" y1="67.30" x2="531.50" y2="67.30" stroke="#262626" stroke-width="0.8"/>
<line x1="482.80" y1="92.50" x2="533.60" y2="92.50" stroke="#262626" stroke-width="0.5"/>
<line x1="482.80" y1="97.20" x2="533.60" y2="97.20" stroke="#262626" stroke-width="0.7"/>
<rect x="502.40" y="90.40" width="15.20" height="3.80" rx="0" fill="none" stroke="#262626" stroke-width="0.6"/>
<line x1="504.00" y1="92.50" x2="512.00" y2="92.50" stroke="#262626" stroke-width="1.2"/>
<rect x="511.00" y="93.80" width="8.00" height="1.80" rx="0" fill="none" stroke="#262626" stroke-width="0.4"/>
<ellipse cx="0" cy="0" rx="5.40" ry="6.20" transform="translate(496.30 91.30) rotate(0)" fill="none" stroke="#262626" stroke-width="0.8"/>
<ellipse cx="0" cy="0" rx="3.00" ry="3.70" transform="translate(496.30 91.60) rotate(0)" fill="none" stroke="#444" stroke-width="1.1"/>
<line x1="492.50" y1="97.20" x2="500.00" y2="97.20" stroke="#262626" stroke-width="0.8"/>
<circle cx="468.80" cy="103.10" r="5.90" fill="none" stroke="#262626" stroke-width="1.0"/>
<circle cx="468.80" cy="103.10" r="4.30" fill="none" stroke="#262626" stroke-width="0.5"/>
<circle cx="468.80" cy="92.30" r="1.40" fill="none" stroke="#262626" stroke-width="0.6"/>
<path d="M467.40 93.00 L462.00 102.50 L466.50 116.50" fill="none" stroke="#262626" stroke-width="0.7" stroke-linejoin="round"/>
<path d="M470.20 93.00 L474.50 98.00 L482.00 103.00" fill="none" stroke="#262626" stroke-width="0.7" stroke-linejoin="round"/>
<path d="M464.50 110.00 L469.50 110.50 L473.50 107.00" fill="none" stroke="#262626" stroke-width="0.5" stroke-linejoin="round"/>
<line x1="475.00" y1="104.00" x2="481.00" y2="100.00" stroke="#262626" stroke-width="0.5"/>
<circle cx="538.20" cy="91.90" r="3.30" fill="none" stroke="#262626" stroke-width="0.6"/>
<line x1="535.00" y1="91.90" x2="541.40" y2="91.90" stroke="#262626" stroke-width="0.5"/>
<line x1="538.20" y1="88.70" x2="538.20" y2="95.10" stroke="#262626" stroke-width="0.5"/>
<path d="M533.6 88 Q535 83.6 540 83.8 Q546.5 84.5 546.8 91 Q546.5 97 541.5 104 L539 107" fill="none" stroke="#262626" stroke-width="0.7"/>
<path d="M533.6 96 Q536 100 535.2 103.5" fill="none" stroke="#262626" stroke-width="0.5"/>
<line x1="403.00" y1="201.40" x2="618.00" y2="201.40" stroke="#262626" stroke-width="0.6"/>
<path d="M460.60 201.40 L460.60 190.40 L464.00 180.60 L465.20 177.00" fill="none" stroke="#262626" stroke-width="0.7" stroke-linejoin="round"/>
<line x1="460.60" y1="196.10" x2="474.60" y2="196.10" stroke="#262626" stroke-width="0.5"/>
<path d="M474.60 196.10 L478.80 190.20 L478.80 184.60" fill="none" stroke="#262626" stroke-width="0.6" stroke-linejoin="round"/>
<line x1="464.00" y1="180.60" x2="475.00" y2="190.20" stroke="#262626" stroke-width="0.5"/>
<path d="M478.40 201.40 L486.30 192.90 L488.60 192.20" fill="none" stroke="#262626" stroke-width="0.6" stroke-linejoin="round"/>
<line x1="463.00" y1="192.50" x2="463.00" y2="201.40" stroke="#555" stroke-width="0.45"/>
<line x1="465.40" y1="192.50" x2="465.40" y2="201.40" stroke="#555" stroke-width="0.45"/>
<line x1="468.80" y1="192.50" x2="468.80" y2="201.40" stroke="#555" stroke-width="0.45"/>
<line x1="471.20" y1="192.50" x2="471.20" y2="201.40" stroke="#555" stroke-width="0.45"/>
<path d="M556.20 201.40 L556.20 190.40 L552.80 180.60 L551.60 177.00" fill="none" stroke="#262626" stroke-width="0.7" stroke-linejoin="round"/>
<line x1="556.20" y1="196.10" x2="542.20" y2="196.10" stroke="#262626" stroke-width="0.5"/>
<path d="M542.20 196.10 L538.00 190.20 L538.00 184.60" fill="none" stroke="#262626" stroke-width="0.6" stroke-linejoin="round"/>
<line x1="552.80" y1="180.60" x2="541.80" y2="190.20" stroke="#262626" stroke-width="0.5"/>
<path d="M538.40 201.40 L530.50 192.90 L528.20 192.20" fill="none" stroke="#262626" stroke-width="0.6" stroke-linejoin="round"/>
<line x1="553.80" y1="192.50" x2="553.80" y2="201.40" stroke="#555" stroke-width="0.45"/>
<line x1="551.40" y1="192.50" x2="551.40" y2="201.40" stroke="#555" stroke-width="0.45"/>
<line x1="548.00" y1="192.50" x2="548.00" y2="201.40" stroke="#555" stroke-width="0.45"/>
<line x1="545.60" y1="192.50" x2="545.60" y2="201.40" stroke="#555" stroke-width="0.45"/>
<path d="M553.5 181 Q557.5 184.5 558.2 189" fill="none" stroke="#262626" stroke-width="0.4"/>
<line x1="467.30" y1="192.30" x2="467.30" y2="201.40" stroke="#262626" stroke-width="0.8"/>
<line x1="460.50" y1="201.40" x2="460.50" y2="237.50" stroke="#262626" stroke-width="0.5"/>
<line x1="556.30" y1="201.40" x2="556.30" y2="237.50" stroke="#262626" stroke-width="0.5"/>
<line x1="467.30" y1="192.50" x2="467.30" y2="226.00" stroke="#262626" stroke-width="0.5"/>
<line x1="548.20" y1="192.50" x2="548.20" y2="226.00" stroke="#262626" stroke-width="0.5"/>
<line x1="478.60" y1="197.50" x2="478.60" y2="217.00" stroke="#262626" stroke-width="0.5"/>
<line x1="537.30" y1="197.50" x2="537.30" y2="217.00" stroke="#262626" stroke-width="0.5"/>
<line x1="478.60" y1="214.50" x2="537.30" y2="214.50" stroke="#262626" stroke-width="0.7"/>
<path d="M478.60 214.50 L483.60 213.20 L483.60 215.80 Z" fill="#262626"/>
<path d="M537.30 214.50 L532.30 215.80 L532.30 213.20 Z" fill="#262626"/>
<text transform="translate(507.95 212.90) scale(0.9 1)" font-size="8.0" text-anchor="middle" fill="#3a3a3a" font-weight="normal">300</text>
<line x1="467.30" y1="223.80" x2="548.20" y2="223.80" stroke="#262626" stroke-width="0.7"/>
<path d="M467.30 223.80 L472.30 222.50 L472.30 225.10 Z" fill="#262626"/>
<path d="M548.20 223.80 L543.20 225.10 L543.20 222.50 Z" fill="#262626"/>
<text transform="translate(507.75 222.20) scale(0.9 1)" font-size="8.0" text-anchor="middle" fill="#3a3a3a" font-weight="normal">406</text>
<line x1="460.50" y1="235.50" x2="556.30" y2="235.50" stroke="#262626" stroke-width="0.7"/>
<path d="M460.50 235.50 L465.50 234.20 L465.50 236.80 Z" fill="#262626"/>
<path d="M556.30 235.50 L551.30 236.80 L551.30 234.20 Z" fill="#262626"/>
<text transform="translate(508.40 233.90) scale(0.9 1)" font-size="8.0" text-anchor="middle" fill="#3a3a3a" font-weight="normal">485</text>
<line x1="403.50" y1="68.80" x2="533.50" y2="68.80" stroke="#262626" stroke-width="0.5"/>
<line x1="406.60" y1="68.80" x2="406.60" y2="201.40" stroke="#262626" stroke-width="0.7"/>
<path d="M406.60 68.80 L407.90 73.80 L405.30 73.80 Z" fill="#262626"/>
<path d="M406.60 201.40 L405.30 196.40 L407.90 196.40 Z" fill="#262626"/>
<text transform="translate(405.00 135.00) rotate(-90) scale(0.9 1)" font-size="8.0" text-anchor="middle" fill="#3a3a3a" font-weight="normal">671</text>
<line x1="506.00" y1="90.50" x2="618.00" y2="90.50" stroke="#262626" stroke-width="0.5"/>
<line x1="615.00" y1="90.50" x2="615.00" y2="201.40" stroke="#262626" stroke-width="0.7"/>
<path d="M615.00 90.50 L616.30 95.50 L613.70 95.50 Z" fill="#262626"/>
<path d="M615.00 201.40 L613.70 196.40 L616.30 196.40 Z" fill="#262626"/>
<text transform="translate(613.40 146.00) rotate(-90) scale(0.9 1)" font-size="8.0" text-anchor="middle" fill="#3a3a3a" font-weight="normal">558</text>
<line x1="599.20" y1="149.70" x2="599.20" y2="201.40" stroke="#262626" stroke-width="0.7"/>
<path d="M599.20 149.70 L600.50 154.70 L597.90 154.70 Z" fill="#262626"/>
<path d="M599.20 201.40 L597.90 196.40 L600.50 196.40 Z" fill="#262626"/>
<text transform="translate(597.60 186.50) rotate(-90) scale(0.92 1)" font-size="7.8" text-anchor="start" fill="#3a3a3a" font-weight="normal">260</text>
<text transform="translate(597.60 174.00) rotate(-90)" font-size="4.2" fill="#333" font-weight="bold"><tspan x="0" y="-3.3">0</tspan><tspan x="0" y="0.2">-0.5</tspan></text>
<line x1="492.30" y1="164.70" x2="588.50" y2="164.70" stroke="#262626" stroke-width="0.5"/>
<path d="M502.00 164.70 L497.40 165.90 L497.40 163.50 Z" fill="#262626"/>
<path d="M513.80 164.70 L518.40 163.50 L518.40 165.90 Z" fill="#262626"/>
<line x1="502.00" y1="158.00" x2="502.00" y2="167.00" stroke="#262626" stroke-width="0.4"/>
<line x1="513.80" y1="158.00" x2="513.80" y2="167.00" stroke="#262626" stroke-width="0.4"/>
<text transform="translate(562.30 163.20) scale(0.95 1)" font-size="7.8" text-anchor="start" fill="#3a3a3a" font-weight="normal">51.8</text>
<text transform="translate(577.60 163.20)" font-size="4.2" fill="#333" font-weight="bold"><tspan x="0" y="-3.3">+0.2</tspan><tspan x="0" y="0.2">0</tspan></text>
<line x1="506.00" y1="114.50" x2="583.80" y2="114.50" stroke="#262626" stroke-width="0.5"/>
<text transform="translate(543.80 113.20) scale(0.95 1)" font-size="7.6" text-anchor="start" fill="#3a3a3a" font-weight="normal" letter-spacing="0.45">12-M16 40</text>
<path d="M510.00 114.50 L514.60 113.30 L514.60 115.70 Z" fill="#262626"/>
<path d="M516.50 114.50 L511.90 115.70 L511.90 113.30 Z" fill="#262626"/>
<line x1="572.00" y1="116.50" x2="572.00" y2="121.00" stroke="#3aa7b5" stroke-width="0.5"/>
<path d="M570.6 116.8 H573.4 L572 119 Z" fill="#3aa7b5" stroke="#3aa7b5" stroke-width="0.3"/>
<text transform="translate(570.00 130.20) scale(0.85 1)" font-size="7.2" text-anchor="start" fill="#222" font-weight="bold" font-family="'Liberation Serif','Noto Serif CJK SC',serif">孔深45</text>
<text transform="translate(473.00 55.00) scale(0.92 1)" font-size="7.0" text-anchor="start" fill="#222" font-weight="bold" font-family="'Liberation Serif','Noto Serif CJK SC',serif">进出水口2*G1/2</text>
<line x1="473.00" y1="56.30" x2="506.00" y2="56.30" stroke="#262626" stroke-width="0.5"/>
<line x1="505.30" y1="56.30" x2="502.80" y2="88.80" stroke="#262626" stroke-width="0.5"/>
<line x1="505.30" y1="56.30" x2="513.50" y2="88.80" stroke="#262626" stroke-width="0.5"/>
<path d="M502.80 90.20 L501.92 85.53 L504.32 85.69 Z" fill="#262626"/>
<path d="M513.70 90.20 L511.42 86.03 L513.75 85.45 Z" fill="#262626"/>
<line x1="424.80" y1="87.00" x2="551.60" y2="182.10" stroke="#262626" stroke-width="0.5"/>
<path d="M467.20 118.80 L462.80 117.00 L464.24 115.08 Z" fill="#262626"/>
<path d="M549.60 180.60 L554.00 182.40 L552.56 184.32 Z" fill="#262626"/>
<text transform="translate(430.00 84.20) rotate(36.87) scale(0.9 1)" font-size="7.8" text-anchor="start" fill="#3a3a3a" font-weight="normal">ø520</text>
<text transform="translate(443.30 94.20) rotate(36.87)" font-size="4.0" fill="#333" font-weight="bold"><tspan x="0" y="-3.3">0</tspan><tspan x="0" y="0.2">-0.1</tspan></text>
<line x1="418.50" y1="120.40" x2="501.00" y2="120.40" stroke="#262626" stroke-width="0.5"/>
<line x1="418.50" y1="179.00" x2="501.00" y2="179.00" stroke="#262626" stroke-width="0.5"/>
<line x1="420.60" y1="120.40" x2="420.60" y2="179.00" stroke="#262626" stroke-width="0.7"/>
<path d="M420.60 120.40 L421.90 125.40 L419.30 125.40 Z" fill="#262626"/>
<path d="M420.60 179.00 L419.30 174.00 L421.90 174.00 Z" fill="#262626"/>
<text transform="translate(419.00 149.50) rotate(-90) scale(0.9 1)" font-size="6.8" text-anchor="middle" fill="#3a3a3a" font-weight="normal">ø300±0.02</text>
<line x1="433.50" y1="123.00" x2="497.00" y2="123.00" stroke="#262626" stroke-width="0.7"/>
<line x1="433.50" y1="176.50" x2="497.00" y2="176.50" stroke="#262626" stroke-width="0.7"/>
<line x1="435.60" y1="123.00" x2="435.60" y2="176.40" stroke="#262626" stroke-width="0.7"/>
<path d="M435.60 123.00 L436.90 128.00 L434.30 128.00 Z" fill="#262626"/>
<path d="M435.60 176.40 L434.30 171.40 L436.90 171.40 Z" fill="#262626"/>
<text transform="translate(434.00 162.60) rotate(-90) scale(0.9 1)" font-size="7" text-anchor="start" fill="#3a3a3a" font-weight="normal">ø270H8</text>
<text transform="translate(434.00 139.60) rotate(-90)" font-size="3.4" fill="#333" font-weight="bold"><tspan x="0" y="-3.3">+0.081</tspan><tspan x="0" y="0.2">0</tspan></text>
<text transform="translate(445.60 159.50) rotate(-90) scale(0.9 1)" font-size="6.3" text-anchor="start" fill="#3a3a3a" font-weight="normal">14键槽</text>
<line x1="440.00" y1="147.20" x2="497.00" y2="147.20" stroke="#262626" stroke-width="0.5"/>
<line x1="440.00" y1="152.00" x2="497.00" y2="152.00" stroke="#262626" stroke-width="0.5"/>
<line x1="431.00" y1="190.20" x2="475.60" y2="190.20" stroke="#262626" stroke-width="0.5"/>
<path d="M461.00 190.20 L456.40 191.40 L456.40 189.00 Z" fill="#262626"/>
<path d="M467.60 190.20 L472.20 189.00 L472.20 191.40 Z" fill="#262626"/>
<text transform="translate(433.00 188.60) scale(0.92 1)" font-size="7.4" text-anchor="start" fill="#3a3a3a" font-weight="normal">4-ø28</text>
<line x1="424.00" y1="195.00" x2="461.00" y2="195.00" stroke="#262626" stroke-width="0.5"/>
<line x1="425.60" y1="186.00" x2="425.60" y2="220.00" stroke="#262626" stroke-width="0.5"/>
<path d="M425.60 195.00 L424.40 190.40 L426.80 190.40 Z" fill="#262626"/>
<path d="M425.60 201.40 L426.80 206.00 L424.40 206.00 Z" fill="#262626"/>
<text transform="translate(424.50 220.00) rotate(-90) scale(0.9 1)" font-size="7" text-anchor="start" fill="#3a3a3a" font-weight="normal">26</text>
<line x1="508.40" y1="149.70" x2="515.06" y2="99.14" stroke="#262626" stroke-width="0.4"/>
<line x1="508.40" y1="149.70" x2="497.76" y2="107.01" stroke="#262626" stroke-width="0.4"/>
<path d="M498.89 135.61 A17 17 0 0 1 516.90 134.98" fill="none" stroke="#262626" stroke-width="0.5"/>
<path d="M504.29 133.20 L500.72 135.68 L499.96 133.61 Z" fill="#262626"/>
<path d="M510.62 132.85 L514.96 132.79 L514.43 134.93 Z" fill="#262626"/>
<line x1="516.90" y1="134.98" x2="534.00" y2="146.00" stroke="#262626" stroke-width="0.4"/>
<text transform="translate(523.50 136.50) rotate(44) scale(0.85 1)" font-size="8.6" text-anchor="start" fill="#3a3a3a" font-weight="normal">150</text>
<path d="M285.00 387.50 L297.00 395.00 L309.00 388.80 L309.00 392.60 L297.00 399.00 L285.00 391.50 Z" fill="#eff5df" stroke="#303030" stroke-width="0.75" stroke-linejoin="round"/>
<path d="M285.00 387.50 L297.00 380.50 L309.00 388.80 L297.00 395.00 Z" fill="#eff5df" stroke="#303030" stroke-width="0.75" stroke-linejoin="round"/>
<line x1="297.00" y1="395.00" x2="297.00" y2="399.00" stroke="#303030" stroke-width="0.625"/>
<ellipse cx="297.8" cy="388.6" rx="3" ry="1.7" fill="none" stroke="#303030" stroke-width="0.5"/>
<path d="M288.30 386.50 L290.80 372.00 L296.00 366.00 L300.00 383.80 Z" fill="#eff5df" stroke="#303030" stroke-width="0.75" stroke-linejoin="round"/>
<ellipse rx="53.50" ry="30.87" transform="translate(316.07 329.50) rotate(-60)" fill="#eff5df" stroke="#303030" stroke-width="0.75"/>
<path d="M342.82 283.17 L354.42 289.87 L300.92 382.53 L289.32 375.83 Z" fill="#eff5df" stroke="none"/>
<line x1="342.82" y1="283.17" x2="354.42" y2="289.87" stroke="#303030" stroke-width="0.75"/>
<line x1="289.32" y1="375.83" x2="300.92" y2="382.53" stroke="#303030" stroke-width="0.75"/>
<ellipse rx="53.50" ry="30.87" transform="translate(327.67 336.20) rotate(-60)" fill="#eff5df" stroke="#303030" stroke-width="0.75"/>
<path d="M290.62 376.58 L287.97 374.71 L285.65 372.36 L283.67 369.54 L282.06 366.30 L280.84 362.66 L280.01 358.66 L279.60 354.35 L279.60 349.78 L280.02 345.00 L280.84 340.05 L282.07 334.99 L283.68 329.89 L285.66 324.79 L287.99 319.74 L290.64 314.82 L293.58 310.06 L296.78 305.52 L300.21 301.25 L303.83 297.31 L307.59 293.72 L311.46 290.53 L315.40 287.78 L319.36 285.49 L323.30 283.70 L327.17 282.41 L330.93 281.65 L334.55 281.42 L337.98 281.72 L341.18 282.56 L344.12 283.92" fill="none" stroke="#303030" stroke-width="0.50"/>
<path d="M303.5 301.6 L285 296.9 Q276.6 297 277 305.4 Q277.6 312 286 324.8 L300 331 L305 306 Z" fill="#eff5df" stroke="none"/>
<path d="M303.5 301.6 L285 296.9 Q276.6 297 277 305.4 Q277.6 312 286 324.8" fill="none" stroke="#303030" stroke-width="0.75"/>
<path d="M280.5 311.4 Q283.5 316.5 289 320.2 L292 326" fill="none" stroke="#303030" stroke-width="0.625"/>
<ellipse cx="286.9" cy="308.6" rx="4.2" ry="7.6" transform="rotate(16 286.9 308.6)" fill="#eff5df" stroke="#303030" stroke-width="0.6875"/>
<path d="M288.9 301.3 L299.2 305.2 L295.2 319 L284.9 315.9 Z" fill="#eff5df" stroke="none"/>
<line x1="288.90" y1="301.30" x2="299.20" y2="305.20" stroke="#303030" stroke-width="0.75"/>
<line x1="284.90" y1="315.90" x2="295.20" y2="319.00" stroke="#303030" stroke-width="0.75"/>
<ellipse cx="297.2" cy="312.1" rx="4.4" ry="7.1" transform="rotate(16 297.2 312.1)" fill="#eff5df" stroke="#303030" stroke-width="0.8125"/>
<ellipse cx="297.4" cy="312.2" rx="3.0" ry="5.5" transform="rotate(16 297.4 312.2)" fill="none" stroke="#303030" stroke-width="0.5625"/>
<path d="M291.2 301.2 L293 299.8 L294.6 302.4 L292.6 303 Z" fill="#333" stroke="none"/>
<ellipse rx="50.50" ry="29.14" transform="translate(327.67 336.20) rotate(-60)" fill="#eff5df" stroke="#303030" stroke-width="0.75"/>
<path d="M352.92 292.47 L388.08 312.77 L337.58 400.23 L302.42 379.93 Z" fill="#eff5df" stroke="none"/>
<line x1="352.92" y1="292.47" x2="388.08" y2="312.77" stroke="#303030" stroke-width="0.75"/>
<line x1="302.42" y1="379.93" x2="337.58" y2="400.23" stroke="#303030" stroke-width="0.75"/>
<ellipse rx="50.50" ry="29.14" transform="translate(362.83 356.50) rotate(-60)" fill="#eff5df" stroke="#303030" stroke-width="0.75"/>
<line x1="303.39" y1="321.16" x2="338.03" y2="341.16" stroke="#303030" stroke-width="2.0"/>
<line x1="306.21" y1="316.70" x2="340.85" y2="336.70" stroke="#303030" stroke-width="0.625"/>
<line x1="300.84" y1="325.79" x2="335.48" y2="345.79" stroke="#303030" stroke-width="0.625"/>
<line x1="292.48" y1="357.12" x2="327.12" y2="377.12" stroke="#303030" stroke-width="2.0"/>
<line x1="292.68" y1="352.69" x2="327.32" y2="372.69" stroke="#303030" stroke-width="0.625"/>
<line x1="292.68" y1="361.31" x2="327.32" y2="381.31" stroke="#303030" stroke-width="0.625"/>
<line x1="293.27" y1="365.24" x2="327.91" y2="385.24" stroke="#303030" stroke-width="0.5"/>
<path d="M303.25 275.00 L338.50 294.50 L373.25 275.00 L373.25 301.00 L338.50 319.80 L303.25 302.00 Z" fill="#eff5df" stroke="#303030" stroke-width="0.75" stroke-linejoin="round"/>
<path d="M303.25 298.80 L338.50 316.60 L373.25 297.80" fill="none" stroke="#303030" stroke-width="0.62" stroke-linejoin="round"/>
<path d="M337.75 256.25 L373.25 275.00 L338.50 294.50 L303.25 275.00 Z" fill="#eff5df" stroke="#303030" stroke-width="0.75" stroke-linejoin="round"/>
<line x1="338.50" y1="294.50" x2="338.50" y2="319.80" stroke="#303030" stroke-width="0.75"/>
<path d="M303.25 277.80 L338.50 297.50 L373.25 277.80" fill="none" stroke="#303030" stroke-width="0.62" stroke-linejoin="round"/>
<circle cx="337.75" cy="259" r="0.9" fill="#555" stroke="none"/>
<circle cx="308" cy="275" r="0.9" fill="#555" stroke="none"/>
<circle cx="368.5" cy="275" r="0.9" fill="#555" stroke="none"/>
<circle cx="338.5" cy="291.5" r="0.9" fill="#555" stroke="none"/>
<ellipse rx="53.20" ry="30.70" transform="translate(362.83 356.50) rotate(-60)" fill="#eff5df" stroke="#303030" stroke-width="0.75"/>
<path d="M389.43 310.43 L407.19 320.68 L353.99 412.82 L336.23 402.57 Z" fill="#eff5df" stroke="none"/>
<line x1="389.43" y1="310.43" x2="407.19" y2="320.68" stroke="#303030" stroke-width="0.75"/>
<line x1="336.23" y1="402.57" x2="353.99" y2="412.82" stroke="#303030" stroke-width="0.75"/>
<ellipse rx="53.20" ry="30.70" transform="translate(380.59 366.75) rotate(-60)" fill="#eff5df" stroke="#303030" stroke-width="0.75"/>
<path d="M345.50 407.92 L342.87 406.06 L340.55 403.72 L338.59 400.92 L336.99 397.70 L335.77 394.07 L334.96 390.10 L334.54 385.82 L334.55 381.27 L334.96 376.51 L335.78 371.59 L337.00 366.57 L338.60 361.49 L340.57 356.42 L342.88 351.40 L345.52 346.50 L348.44 341.77 L351.63 337.26 L355.04 333.02 L358.63 329.09 L362.38 325.52 L366.23 322.35 L370.14 319.62 L374.08 317.34 L377.99 315.56 L381.84 314.28 L385.59 313.52 L389.18 313.29 L392.59 313.59 L395.78 314.43 L398.70 315.78" fill="none" stroke="#303030" stroke-width="0.69"/>
<path d="M351.82 411.57 L349.19 409.71 L346.88 407.37 L344.91 404.57 L343.31 401.35 L342.09 397.72 L341.28 393.75 L340.87 389.47 L340.87 384.92 L341.28 380.16 L342.10 375.24 L343.32 370.22 L344.92 365.14 L346.89 360.07 L349.20 355.05 L351.84 350.15 L354.76 345.42 L357.95 340.91 L361.36 336.67 L364.96 332.74 L368.70 329.17 L372.55 326.00 L376.47 323.27 L380.40 320.99 L384.32 319.21 L388.17 317.93 L391.91 317.17 L395.51 316.94 L398.91 317.24 L402.10 318.08 L405.02 319.43" fill="none" stroke="#303030" stroke-width="0.50"/>
<path d="M343.50 322.80 L353.20 318.40 L356.50 314.50 L372.80 305.00 L378.40 302.20 L388.70 307.80 L388.70 312.20 L399.00 317.50 L380.00 326.00 L366.00 334.00 L353.20 337.00 L343.50 331.00 Z" fill="#eff5df" stroke="none" stroke-width="0.00" stroke-linejoin="round"/>
<path d="M343.50 322.80 L353.20 318.40 L362.00 322.60 L353.20 327.90 Z" fill="#eff5df" stroke="#303030" stroke-width="0.75" stroke-linejoin="round"/>
<path d="M343.50 322.80 L353.20 327.90 L353.20 334.50 L343.50 329.60 Z" fill="#eff5df" stroke="#303030" stroke-width="0.75" stroke-linejoin="round"/>
<line x1="353.20" y1="334.50" x2="357.50" y2="332.50" stroke="#303030" stroke-width="0.625"/>
<line x1="343.50" y1="329.60" x2="345.50" y2="337.00" stroke="#303030" stroke-width="0.625"/>
<path d="M353.20 318.40 L356.50 314.80 L372.80 305.20" fill="none" stroke="#303030" stroke-width="0.62" stroke-linejoin="round"/>
<path d="M356.50 314.80 L356.50 312.20 L372.50 303.00" fill="none" stroke="#303030" stroke-width="0.62" stroke-linejoin="round"/>
<path d="M372.80 305.00 L378.40 302.20 L388.70 307.80 L388.70 312.20 L399.00 317.60" fill="none" stroke="#303030" stroke-width="0.75" stroke-linejoin="round"/>
<path d="M388.70 307.80 L382.80 311.00 L372.80 305.00" fill="none" stroke="#303030" stroke-width="0.62" stroke-linejoin="round"/>
<line x1="382.80" y1="311.00" x2="382.80" y2="315.00" stroke="#303030" stroke-width="0.625"/>
<path d="M354.60 311.60 L358.40 309.60 L362.40 312.40 L358.60 314.60 Z" fill="#8a8c80" stroke="#303030" stroke-width="0.62" stroke-linejoin="round"/>
<path d="M366.60 308.20 L371.00 306.00 L374.60 308.00 L370.20 310.40 Z" fill="#eff5df" stroke="#303030" stroke-width="0.62" stroke-linejoin="round"/>
<path d="M373.60 309.80 L378.60 307.20 L382.60 309.60 L377.60 312.40 Z" fill="#eff5df" stroke="#303030" stroke-width="0.62" stroke-linejoin="round"/>
<path d="M363.00 313.20 L368.50 310.40 L372.50 312.80 L367.00 315.80 Z" fill="#eff5df" stroke="#303030" stroke-width="0.62" stroke-linejoin="round"/>
<line x1="366.60" y1="308.20" x2="366.60" y2="310.20" stroke="#303030" stroke-width="0.625"/>
<line x1="373.60" y1="309.80" x2="373.60" y2="312.00" stroke="#303030" stroke-width="0.625"/>
<line x1="377.60" y1="312.40" x2="377.60" y2="314.60" stroke="#303030" stroke-width="0.625"/>
<circle cx="357.9" cy="319.6" r="1.2" fill="#333"/>
<circle cx="369" cy="313.4" r="1.1" fill="#333"/>
<circle cx="376.8" cy="309.6" r="0.9" fill="#444"/>
<ellipse cx="366.7" cy="321.4" rx="5.7" ry="4.6" transform="rotate(-20 366.7 321.4)" fill="#eff5df" stroke="#303030" stroke-width="1.0"/>
<ellipse cx="366.7" cy="321.4" rx="3.3" ry="2.5" transform="rotate(-20 366.7 321.4)" fill="none" stroke="#303030" stroke-width="1.125"/>
<ellipse cx="366.9" cy="321.5" rx="1.5" ry="1.1" transform="rotate(-20 366.9 321.5)" fill="none" stroke="#303030" stroke-width="0.4"/>
<path d="M336.5 420.1 L339.7 403 L358 403 L366 408 Q372 411 373.2 414 L371 420 Q369 424.5 366.8 427.3 L354.6 433.3 L336.5 424.2 Z" fill="#eff5df" stroke="none"/>
<path d="M336.5 420.1 L354.6 429.1 L366.8 423.3 Q371.5 419.5 373.2 413.7" fill="none" stroke="#303030" stroke-width="0.75"/>
<path d="M336.5 420.1 V424.2 L354.6 433.3 L366.8 427.3 Q370.5 424 372.6 419" fill="none" stroke="#303030" stroke-width="0.75"/>
<line x1="354.60" y1="429.10" x2="354.60" y2="433.30" stroke="#303030" stroke-width="0.625"/>
<line x1="352.20" y1="428.00" x2="352.20" y2="432.10" stroke="#303030" stroke-width="0.5"/>
<path d="M336.50 420.10 L339.70 403.00 L345.50 404.00 L342.90 420.00 Z" fill="#eff5df" stroke="#303030" stroke-width="0.75" stroke-linejoin="round"/>
<path d="M342.9 420 L353 413.2 L366.8 419.2" fill="none" stroke="#303030" stroke-width="0.625"/>
<line x1="353.00" y1="413.20" x2="357.60" y2="403.50" stroke="#303030" stroke-width="0.625"/>
<line x1="345.50" y1="404.00" x2="353.00" y2="413.20" stroke="#303030" stroke-width="0.625"/>
<path d="M358.3 405.2 Q365 407.5 367.2 411 Q368.6 414 368.4 417.5" fill="none" stroke="#303030" stroke-width="0.625"/>
<ellipse cx="353" cy="421.7" rx="3" ry="1.7" fill="none" stroke="#303030" stroke-width="0.625"/>
<ellipse rx="53.20" ry="30.70" transform="translate(380.59 366.75) rotate(-60)" fill="#eff5df" stroke="#303030" stroke-width="0.75"/>
<path d="M371.37 411.73 L367.83 412.45 L364.43 412.66 L361.21 412.38 L358.20 411.59 L355.44 410.31 L352.95 408.55 L350.76 406.34 L348.90 403.69 L347.39 400.64 L346.24 397.22 L345.47 393.46 L345.08 389.41 L345.08 385.11 L345.47 380.61 L346.25 375.96 L347.40 371.21 L348.91 366.41 L350.77 361.61 L352.96 356.87 L355.45 352.24 L358.22 347.76 L361.23 343.50 L364.45 339.49 L367.86 335.78 L371.40 332.40 L375.04 329.41 L378.74 326.82 L382.46 324.67 L386.16 322.98 L389.80 321.77 L393.34 321.05 L396.74 320.84 L399.96 321.12 L402.97 321.91 L405.74 323.19 L408.23 324.95 L410.41 327.16 L412.27 329.81 L413.79 332.86 L414.93 336.28" fill="none" stroke="#303030" stroke-width="0.56"/>
<ellipse rx="2.40" ry="1.38" transform="translate(393.93 321.86) rotate(-60)" fill="none" stroke="#303030" stroke-width="1.00"/>
<ellipse rx="1.10" ry="0.63" transform="translate(393.93 321.86) rotate(-60)" fill="none" stroke="#303030" stroke-width="0.50"/>
<ellipse rx="2.40" ry="1.38" transform="translate(412.79 332.75) rotate(-60)" fill="none" stroke="#303030" stroke-width="1.00"/>
<ellipse rx="1.10" ry="0.63" transform="translate(412.79 332.75) rotate(-60)" fill="none" stroke="#303030" stroke-width="0.50"/>
<ellipse rx="2.40" ry="1.38" transform="translate(412.79 363.56) rotate(-60)" fill="none" stroke="#303030" stroke-width="1.00"/>
<ellipse rx="1.10" ry="0.63" transform="translate(412.79 363.56) rotate(-60)" fill="none" stroke="#303030" stroke-width="0.50"/>
<ellipse rx="2.40" ry="1.38" transform="translate(393.93 396.24) rotate(-60)" fill="none" stroke="#303030" stroke-width="1.00"/>
<ellipse rx="1.10" ry="0.63" transform="translate(393.93 396.24) rotate(-60)" fill="none" stroke="#303030" stroke-width="0.50"/>
<ellipse rx="2.40" ry="1.38" transform="translate(348.38 400.75) rotate(-60)" fill="none" stroke="#303030" stroke-width="1.00"/>
<ellipse rx="1.10" ry="0.63" transform="translate(348.38 400.75) rotate(-60)" fill="none" stroke="#303030" stroke-width="0.50"/>
<ellipse rx="2.40" ry="1.38" transform="translate(348.38 369.94) rotate(-60)" fill="none" stroke="#303030" stroke-width="1.00"/>
<ellipse rx="1.10" ry="0.63" transform="translate(348.38 369.94) rotate(-60)" fill="none" stroke="#303030" stroke-width="0.50"/>
<ellipse rx="2.40" ry="1.38" transform="translate(367.25 337.26) rotate(-60)" fill="none" stroke="#303030" stroke-width="1.00"/>
<ellipse rx="1.10" ry="0.63" transform="translate(367.25 337.26) rotate(-60)" fill="none" stroke="#303030" stroke-width="0.50"/>
<path d="M410.5 330.5 L412.8 329.8 L414.6 333.2 L412.6 334 Z" fill="#333" stroke="#303030" stroke-width="0.5"/>
<ellipse rx="44.60" ry="25.73" transform="translate(380.59 366.75) rotate(-60)" fill="#eff5df" stroke="#303030" stroke-width="0.75"/>
<path d="M402.89 328.13 L429.30 343.38 L384.70 420.62 L358.29 405.37 Z" fill="#eff5df" stroke="none"/>
<line x1="402.89" y1="328.13" x2="429.30" y2="343.38" stroke="#303030" stroke-width="0.75"/>
<line x1="358.29" y1="405.37" x2="384.70" y2="420.62" stroke="#303030" stroke-width="0.75"/>
<ellipse rx="44.60" ry="25.73" transform="translate(407.00 382.00) rotate(-60)" fill="#eff5df" stroke="#303030" stroke-width="0.75"/>
<path d="M367.21 410.52 L365.00 408.97 L363.06 407.00 L361.41 404.66 L360.07 401.95 L359.05 398.92 L358.37 395.58 L358.02 391.99 L358.02 388.18 L358.37 384.19 L359.06 380.07 L360.08 375.85 L361.42 371.60 L363.07 367.34 L365.01 363.14 L367.22 359.03 L369.67 355.07 L372.34 351.28 L375.20 347.73 L378.22 344.44 L381.36 341.44 L384.58 338.79 L387.87 336.49 L391.17 334.59 L394.45 333.09 L397.68 332.02 L400.81 331.38 L403.83 331.19 L406.69 331.45 L409.36 332.14 L411.81 333.28" fill="none" stroke="#303030" stroke-width="0.69"/>
<circle cx="376.9" cy="339.3" r="0.7" fill="#555"/>
<circle cx="389.6" cy="331.1" r="0.7" fill="#555"/>
<ellipse rx="29.00" ry="16.73" transform="translate(407.00 382.00) rotate(-60)" fill="none" stroke="#303030" stroke-width="0.75"/>
<ellipse rx="2.90" ry="1.67" transform="translate(410.63 348.09) rotate(-60)" fill="none" stroke="#303030" stroke-width="0.88"/>
<ellipse rx="1.50" ry="0.87" transform="translate(410.63 348.09) rotate(-60)" fill="none" stroke="#303030" stroke-width="0.62"/>
<ellipse rx="2.90" ry="1.67" transform="translate(423.92 346.77) rotate(-60)" fill="none" stroke="#303030" stroke-width="0.88"/>
<ellipse rx="1.50" ry="0.87" transform="translate(423.92 346.77) rotate(-60)" fill="none" stroke="#303030" stroke-width="0.62"/>
<ellipse rx="2.90" ry="1.67" transform="translate(432.67 354.90) rotate(-60)" fill="none" stroke="#303030" stroke-width="0.88"/>
<ellipse rx="1.50" ry="0.87" transform="translate(432.67 354.90) rotate(-60)" fill="none" stroke="#303030" stroke-width="0.62"/>
<ellipse rx="2.90" ry="1.67" transform="translate(434.55 370.28) rotate(-60)" fill="none" stroke="#303030" stroke-width="0.88"/>
<ellipse rx="1.50" ry="0.87" transform="translate(434.55 370.28) rotate(-60)" fill="none" stroke="#303030" stroke-width="0.62"/>
<ellipse rx="2.90" ry="1.67" transform="translate(429.05 388.81) rotate(-60)" fill="none" stroke="#303030" stroke-width="0.88"/>
<ellipse rx="1.50" ry="0.87" transform="translate(429.05 388.81) rotate(-60)" fill="none" stroke="#303030" stroke-width="0.62"/>
<ellipse rx="2.90" ry="1.67" transform="translate(417.63 405.51) rotate(-60)" fill="none" stroke="#303030" stroke-width="0.88"/>
<ellipse rx="1.50" ry="0.87" transform="translate(417.63 405.51) rotate(-60)" fill="none" stroke="#303030" stroke-width="0.62"/>
<ellipse rx="2.90" ry="1.67" transform="translate(403.37 415.91) rotate(-60)" fill="none" stroke="#303030" stroke-width="0.88"/>
<ellipse rx="1.50" ry="0.87" transform="translate(403.37 415.91) rotate(-60)" fill="none" stroke="#303030" stroke-width="0.62"/>
<ellipse rx="2.90" ry="1.67" transform="translate(390.08 417.23) rotate(-60)" fill="none" stroke="#303030" stroke-width="0.88"/>
<ellipse rx="1.50" ry="0.87" transform="translate(390.08 417.23) rotate(-60)" fill="none" stroke="#303030" stroke-width="0.62"/>
<ellipse rx="2.90" ry="1.67" transform="translate(381.33 409.10) rotate(-60)" fill="none" stroke="#303030" stroke-width="0.88"/>
<ellipse rx="1.50" ry="0.87" transform="translate(381.33 409.10) rotate(-60)" fill="none" stroke="#303030" stroke-width="0.62"/>
<ellipse rx="2.90" ry="1.67" transform="translate(379.45 393.72) rotate(-60)" fill="none" stroke="#303030" stroke-width="0.88"/>
<ellipse rx="1.50" ry="0.87" transform="translate(379.45 393.72) rotate(-60)" fill="none" stroke="#303030" stroke-width="0.62"/>
<ellipse rx="2.90" ry="1.67" transform="translate(384.95 375.19) rotate(-60)" fill="none" stroke="#303030" stroke-width="0.88"/>
<ellipse rx="1.50" ry="0.87" transform="translate(384.95 375.19) rotate(-60)" fill="none" stroke="#303030" stroke-width="0.62"/>
<ellipse rx="2.90" ry="1.67" transform="translate(396.37 358.49) rotate(-60)" fill="none" stroke="#303030" stroke-width="0.88"/>
<ellipse rx="1.50" ry="0.87" transform="translate(396.37 358.49) rotate(-60)" fill="none" stroke="#303030" stroke-width="0.62"/>
<ellipse rx="1.30" ry="0.75" transform="translate(412.82 353.56) rotate(-60)" fill="none" stroke="#303030" stroke-width="0.69"/>
<ellipse rx="1.30" ry="0.75" transform="translate(422.90 354.46) rotate(-60)" fill="none" stroke="#303030" stroke-width="0.69"/>
<ellipse rx="1.30" ry="0.75" transform="translate(428.72 362.74) rotate(-60)" fill="none" stroke="#303030" stroke-width="0.69"/>
<ellipse rx="1.30" ry="0.75" transform="translate(428.72 376.18) rotate(-60)" fill="none" stroke="#303030" stroke-width="0.69"/>
<ellipse rx="1.30" ry="0.75" transform="translate(422.90 391.18) rotate(-60)" fill="none" stroke="#303030" stroke-width="0.69"/>
<ellipse rx="1.30" ry="0.75" transform="translate(412.82 403.72) rotate(-60)" fill="none" stroke="#303030" stroke-width="0.69"/>
<ellipse rx="1.30" ry="0.75" transform="translate(401.18 410.44) rotate(-60)" fill="none" stroke="#303030" stroke-width="0.69"/>
<ellipse rx="1.30" ry="0.75" transform="translate(391.10 409.54) rotate(-60)" fill="none" stroke="#303030" stroke-width="0.69"/>
<ellipse rx="1.30" ry="0.75" transform="translate(385.28 401.26) rotate(-60)" fill="none" stroke="#303030" stroke-width="0.69"/>
<ellipse rx="1.30" ry="0.75" transform="translate(385.28 387.82) rotate(-60)" fill="none" stroke="#303030" stroke-width="0.69"/>
<ellipse rx="1.30" ry="0.75" transform="translate(391.10 372.82) rotate(-60)" fill="none" stroke="#303030" stroke-width="0.69"/>
<ellipse rx="1.30" ry="0.75" transform="translate(401.18 360.28) rotate(-60)" fill="none" stroke="#303030" stroke-width="0.69"/>
<path d="M413.49 383.19 L412.91 384.38 L412.26 385.54 L411.54 386.65 L410.75 387.71 L409.92 388.70 L409.04 389.60 L408.14 390.42 L407.21 391.14 L406.27 391.74 L405.33 392.24 L404.40 392.61 L403.49 392.86 L402.60 392.99 L401.76 392.98 L400.97 392.85 L400.24 392.59 L399.58 392.20 L398.98 391.70 L398.47 391.08 L398.05 390.36 L397.72 389.53 L397.48 388.62 L397.34 387.63 L397.29 386.56 L397.35 385.44 L397.51 384.28 L397.76 383.09 L398.11 381.88 L398.55 380.66 L399.07 379.45 L399.68 378.27 L400.35 377.12 L401.09 376.03" fill="none" stroke="#222" stroke-width="1.12"/>
<ellipse rx="12.60" ry="7.27" transform="translate(406.60 381.70) rotate(-60)" fill="none" stroke="#222" stroke-width="1.25"/>
<ellipse rx="10.80" ry="6.23" transform="translate(406.90 381.80) rotate(-60)" fill="none" stroke="#303030" stroke-width="0.50"/>
<ellipse rx="6.20" ry="3.58" transform="translate(407.20 382.00) rotate(-60)" fill="none" stroke="#303030" stroke-width="0.62"/>
<ellipse rx="4.00" ry="2.31" transform="translate(407.20 382.00) rotate(-60)" fill="none" stroke="#303030" stroke-width="0.62"/>
</svg>
<div id="tbl">
<div class="hd" id="h0"><svg width="139" height="45" viewBox="0 0 139 45"><line x1="0" y1="0.5" x2="139" y2="44.6" stroke="#fff" stroke-width="0.9"/></svg><span class="a">型号</span><span class="b">项目</span></div>
<div class="hd hg" style="left:138.4px;width:150.6px;padding-left:3.0px">ISMD2-22D12BD-R141X<br>ISMD2-28D15BD-R141X<br>ISMD2-54D30BD-R141X</div>
<div class="hd hg" style="left:289px;width:150.5px;padding-left:1.6px">ISMD2-34D12BD-R141X<br>ISMD2-42D15BD-R141X<br>ISMD2-81D30BD-R141X</div>
<div class="hd hg" style="left:439.5px;width:150.5px;padding-left:0.6px">ISMD2-46D12BD-R141X<br>ISMD2-56D15BD-R141X<br>ISMD2-11E30BD-R141X</div>
<div class="hd hg" style="left:590px;width:154px;padding-left:-1.2px">ISMD2-56D12BD-R141X<br>ISMD2-70D15BD-R141X<br>ISMD2-14E30BD-R141X</div>
<div class="row" style="top:45.5px"><div class="c c0">A</div><div class="c cv" style="left:139px;width:150px;padding-right:-0.6px">398</div><div class="c cv" style="left:289px;width:150.5px;padding-right:-0.4px">508</div><div class="c cv" style="left:439.5px;width:150.5px;padding-right:3.6px">618</div><div class="c cv" style="left:590px;width:154px;padding-right:8.2px">728</div></div>
<div class="row" style="top:64.5px"><div class="c c0">B</div><div class="c cv" style="left:139px;width:150px;padding-right:-0.6px">638</div><div class="c cv" style="left:289px;width:150.5px;padding-right:-0.4px">748</div><div class="c cv" style="left:439.5px;width:150.5px;padding-right:3.6px">858</div><div class="c cv" style="left:590px;width:154px;padding-right:8.2px">968</div></div>
<div class="row" style="top:83.5px"><div class="c c0">C</div><div class="c cv" style="left:139px;width:150px;padding-right:-0.6px">701</div><div class="c cv" style="left:289px;width:150.5px;padding-right:-0.4px">811</div><div class="c cv" style="left:439.5px;width:150.5px;padding-right:3.6px">921</div><div class="c cv" style="left:590px;width:154px;padding-right:8.2px">1031</div></div>
</div>

</body></html>
